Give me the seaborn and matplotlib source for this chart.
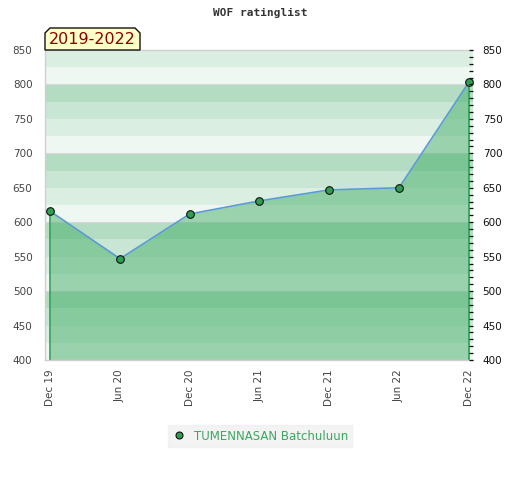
import numpy as np
import pandas as pd
import matplotlib
matplotlib.use("Agg")
import matplotlib.pyplot as plt
import seaborn as sns
from matplotlib.patches import Polygon
from matplotlib.ticker import MultipleLocator

periods = ["Dec 19", "Jun 20", "Dec 20", "Jun 21", "Dec 21", "Jun 22", "Dec 22"]
ratings = [616, 547, 612, 631, 647, 650, 803]
player = "TUMENNASAN Batchuluun"

df = pd.DataFrame({"idx": range(len(periods)), "rating": ratings, "player": player})

sns.set_theme(style="white")
plt.rcParams["font.family"] = ["DejaVu Sans"]

fig = plt.figure(figsize=(5.2, 4.8), dpi=100)
ax = fig.add_axes([0.0865, 0.25, 0.823, 0.6458])

ymin, ymax = 400, 850
band_cols = ["#b3dcc3", "#c8e6d3", "#dbeee2", "#eff7f2"]
for top in range(ymax, ymin, -25):
    k = ((800 - top) // 25) % 4
    ax.axhspan(top - 25, top, color=band_cols[k], lw=0, zorder=0)
for h in range(500, 850, 100):
    ax.axhline(h, color="#d8d8d8", lw=0.8, zorder=0.5)

fill_col = "#45af68"
ax.fill_between(df["idx"], df["rating"], ymin, color=fill_col, alpha=0.5, lw=0, zorder=1)
ax.vlines([df["idx"].iloc[0], df["idx"].iloc[-1]], ymin,
          [df["rating"].iloc[0], df["rating"].iloc[-1]], color="#2ea055", lw=1.2, zorder=2)

sns.lineplot(data=df, x="idx", y="rating", ax=ax, color="#5b9bd5", lw=1.2,
             marker="o", markersize=5.5, markerfacecolor="#2e9e4f",
             markeredgecolor="#111111", markeredgewidth=0.8, zorder=3, legend=False)

ax.set_xlim(-0.075, 6.06)
ax.set_ylim(ymin, ymax)
ax.set_xticks(range(len(periods)))
ax.set_xticklabels(periods, rotation=90, fontsize=7.5, color="#444444")
ax.yaxis.set_major_locator(MultipleLocator(50))
ax.tick_params(axis="y", labelsize=7.5, labelcolor="#444444", length=0, pad=9)
ax.tick_params(axis="x", length=0, pad=7)
ax.set_xlabel("")
ax.set_ylabel("")
for s in ["left", "bottom", "top"]:
    ax.spines[s].set_color("#d0d0d0")
    ax.spines[s].set_linewidth(1)
ax.spines["right"].set_visible(False)

ax2 = ax.twinx()
ax2.set_ylim(ymin, ymax)
ax2.yaxis.set_major_locator(MultipleLocator(50))
ax2.yaxis.set_minor_locator(MultipleLocator(10))
ax2.tick_params(axis="y", which="major", labelsize=7.5, labelcolor="#111111",
                length=3, width=0.9, color="#111111", direction="in", pad=7)
ax2.tick_params(axis="y", which="minor", length=3, width=0.9, color="#111111", direction="in")
for s in ax2.spines.values():
    s.set_visible(False)

fig.text(0.5, 0.972, "WOF ratinglist", ha="center", va="center",
         family="DejaVu Sans Mono", fontweight="bold", fontsize=8, color="#333333")

# label tab
W, H = 520, 480
pts = [(45, 50), (45, 33), (50, 28), (135, 28), (140, 33), (140, 50)]
tab = Polygon([(x / W, 1 - y / H) for x, y in pts], closed=True, transform=fig.transFigure,
              facecolor="#ffffc8", edgecolor="#111111", lw=1, zorder=5)
fig.patches.append(tab)
fig.text(92.5 / W, 1 - 40 / H, "2019-2022", ha="center", va="center",
         fontsize=11.5, color="#8b0000", zorder=6)

handle = plt.Line2D([], [], ls="none", marker="o", markersize=5, markerfacecolor="#2e9e4f",
                    markeredgecolor="#111111", markeredgewidth=0.8)
leg = fig.legend([handle], [player], loc="center", bbox_to_anchor=(0.5, 1 - 436 / H),
                 frameon=True, fancybox=False, fontsize=8.5, handletextpad=0.6,
                 handlelength=1.2, borderpad=0.35)
leg.get_frame().set_facecolor("#f0f0f0")
leg.get_frame().set_edgecolor("#f0f0f0")
for t in leg.get_texts():
    t.set_color("#3aa862")

fig.savefig("out.png", dpi=100)
